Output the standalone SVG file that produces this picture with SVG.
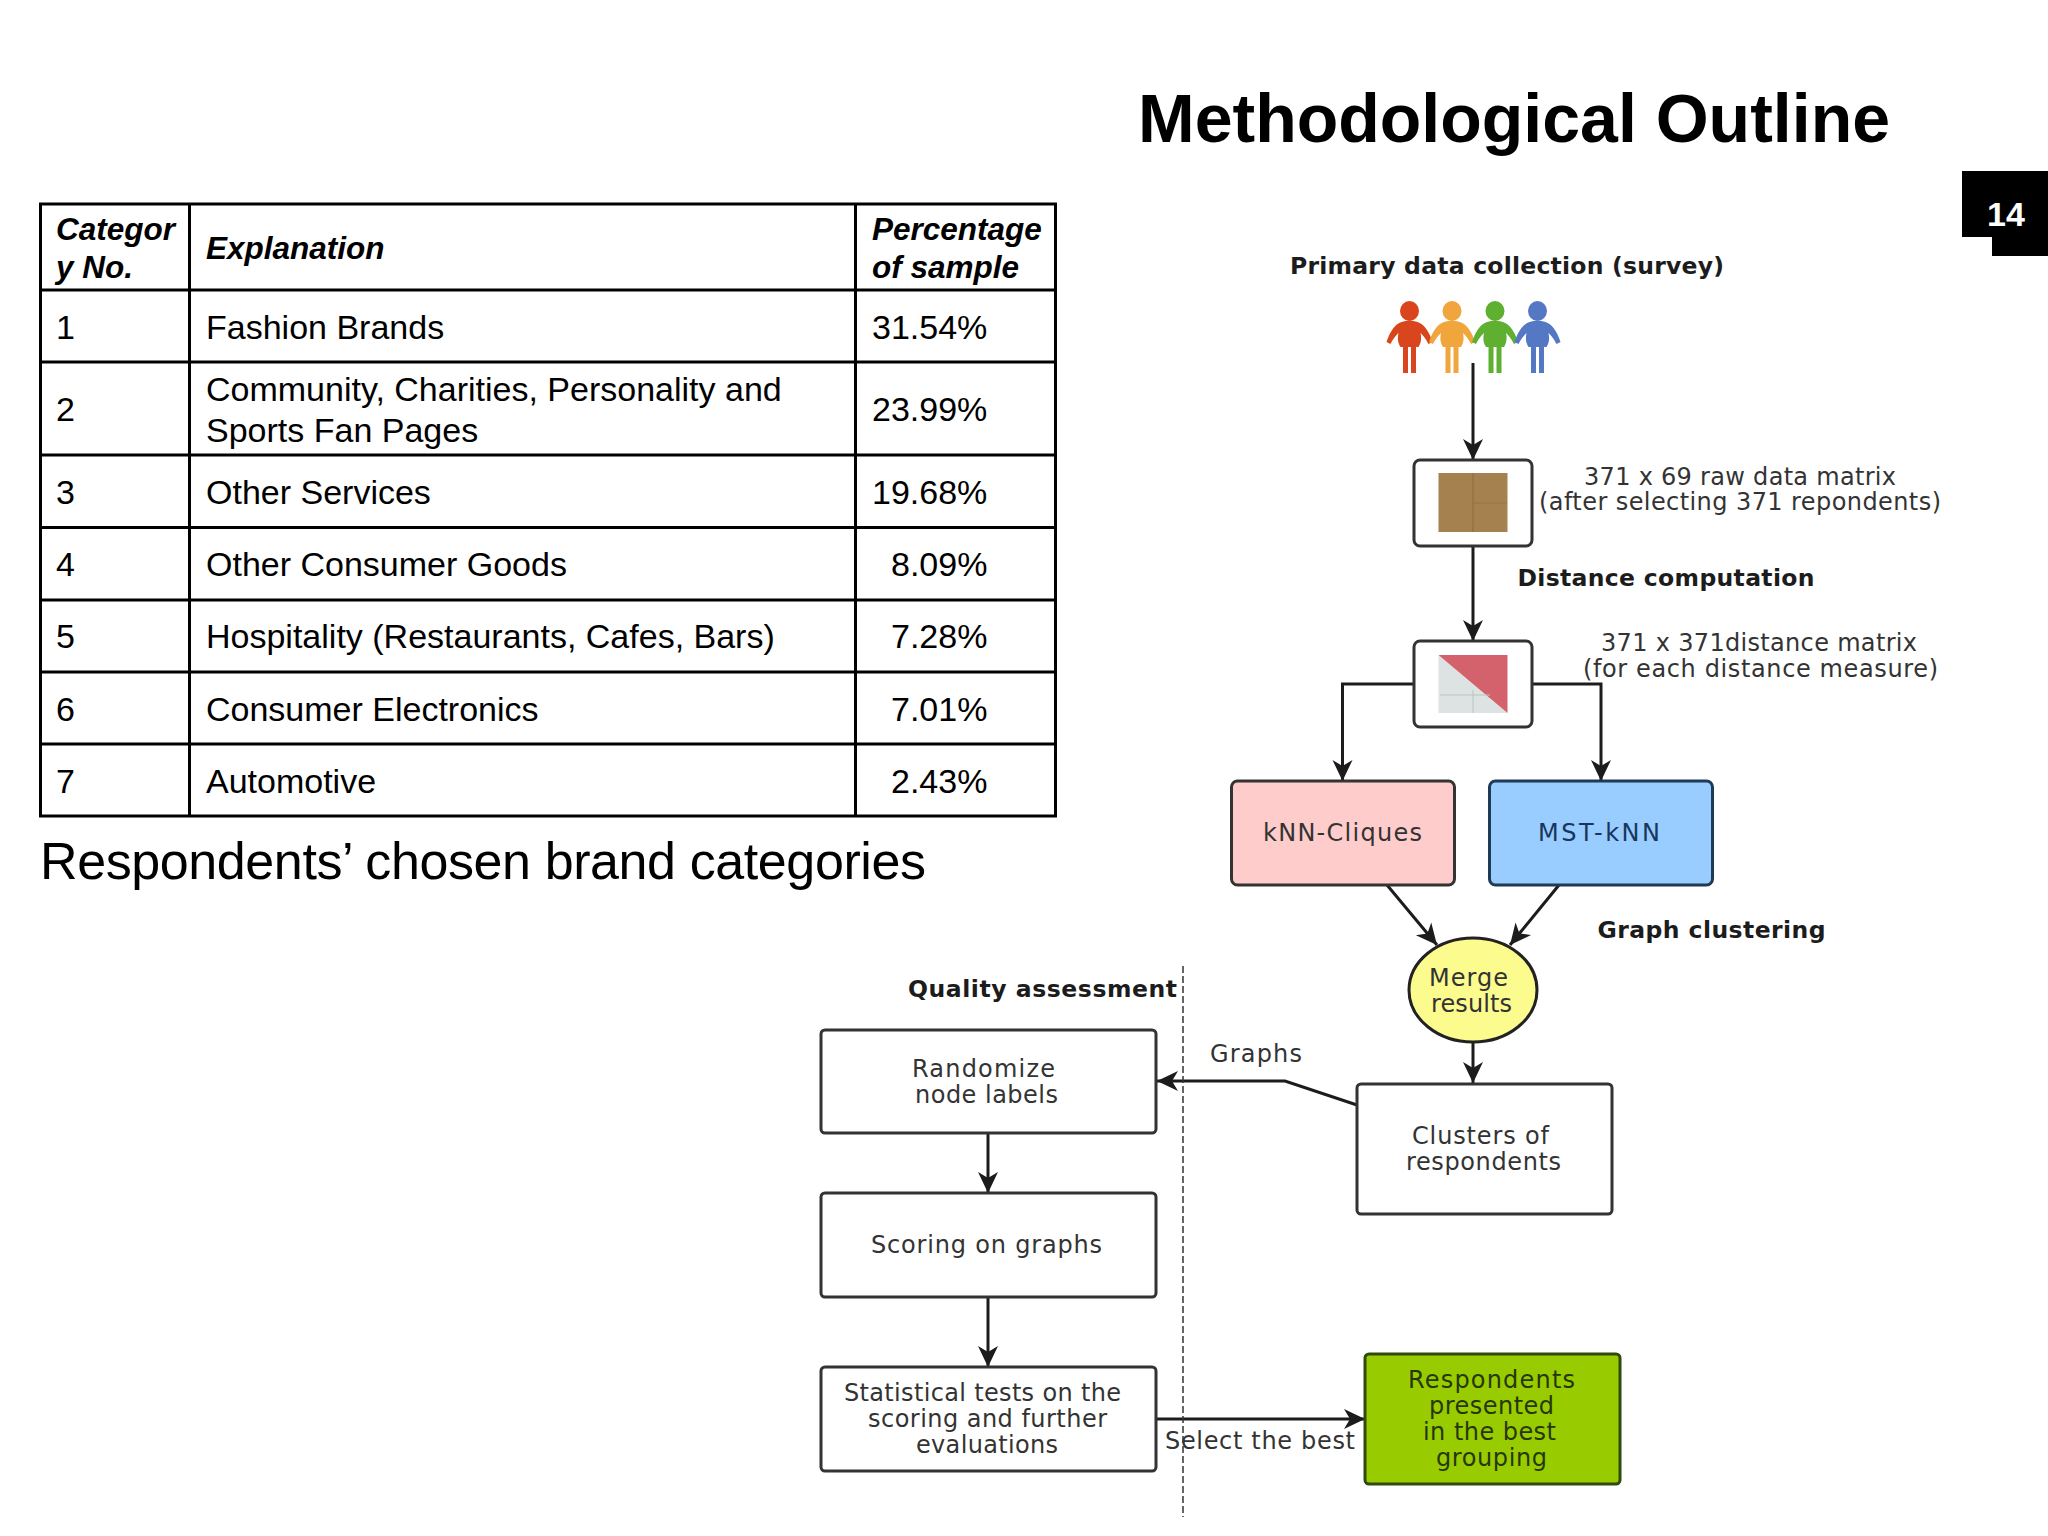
<svg xmlns="http://www.w3.org/2000/svg" width="2048" height="1536" viewBox="0 0 2048 1536">
<style>
text{font-family:"DejaVu Sans",sans-serif;fill:#333;font-size:24px}
.b{font-weight:700;fill:#1c1c1c;font-size:23.500px}
.a{font-family:"Liberation Sans",Arial,sans-serif;fill:#000}
.t{font-size:34px}
.h{font-size:31.500px;font-weight:700;font-style:italic}
.n{fill:#fff;stroke:#333;stroke-width:3}
.c{fill:none;stroke:#1c1c1c;stroke-width:3}
.g{fill:none;stroke:#000;stroke-width:3}
.d{fill:#26380a}
</style>
<defs>
<marker id="ah" markerUnits="userSpaceOnUse" markerWidth="28" markerHeight="28" viewBox="0 0 28 28" refX="25" refY="14" orient="auto">
<path d="M25,14 L4,4 L10,14 L4,24 Z" fill="#1c1c1c"/>
</marker>
<g id="person">
<ellipse cx="0" cy="-1" rx="9.500" ry="10"/>
<path d="M-8,10 Q0,7 8,10 C14,12 19,18 23,30 L19,32 C16,26 13,23 11,21 C12,26 12,30 9,35 L6.500,35 L6.500,61 L1.500,61 L1.500,35 L-1.500,35 L-1.500,61 L-6.500,61 L-6.500,35 L-9,35 C-12,30 -12,26 -11,21 C-13,23 -16,26 -19,32 L-23,30 C-19,18 -14,12 -8,10 Z"/>
</g>
</defs>
<rect width="2048" height="1536" fill="#fff"/>

<g id="title"><text class="a" x="1138" y="142" font-weight="700" style="font-size:68px" textLength="752">Methodological Outline</text></g>
<g id="page-number">
<path d="M1962,171 H2048 V256 H1992 V237 H1962 Z" fill="#000"/>
<text class="a" x="2006" y="226" text-anchor="middle" font-weight="700" style="font-size:34px;fill:#fff">14</text>
</g>

<g id="table">
<rect class="g" x="40.500" y="204" width="1015" height="612"/>
<path class="g" d="M189.500,204V816M855.500,204V816M40.500,290H1055.500M40.500,362H1055.500M40.500,455H1055.500M40.500,527.500H1055.500M40.500,600H1055.500M40.500,672H1055.500M40.500,744H1055.500"/>
<text class="a h" x="56" y="240">Categor</text>
<text class="a h" x="56" y="278">y No.</text>
<text class="a h" x="206" y="259">Explanation</text>
<text class="a h" x="872" y="240">Percentage</text>
<text class="a h" x="872" y="278">of sample</text>
<text class="a t" x="56" y="339">1</text><text class="a t" x="206" y="339">Fashion Brands</text><text class="a t" x="872" y="339">31.54%</text>
<text class="a t" x="56" y="421">2</text><text class="a t" x="206" y="401">Community, Charities, Personality and</text><text class="a t" x="206" y="442">Sports Fan Pages</text><text class="a t" x="872" y="421">23.99%</text>
<text class="a t" x="56" y="504">3</text><text class="a t" x="206" y="504">Other Services</text><text class="a t" x="872" y="504">19.68%</text>
<text class="a t" x="56" y="576">4</text><text class="a t" x="206" y="576">Other Consumer Goods</text><text class="a t" x="891" y="576">8.09%</text>
<text class="a t" x="56" y="648">5</text><text class="a t" x="206" y="648">Hospitality (Restaurants, Cafes, Bars)</text><text class="a t" x="891" y="648">7.28%</text>
<text class="a t" x="56" y="721">6</text><text class="a t" x="206" y="721">Consumer Electronics</text><text class="a t" x="891" y="721">7.01%</text>
<text class="a t" x="56" y="793">7</text><text class="a t" x="206" y="793">Automotive</text><text class="a t" x="891" y="793">2.43%</text>
</g>
<g id="caption"><text class="a" x="40" y="879" style="font-size:52px" textLength="886">Respondents’ chosen brand categories</text></g>

<g id="connectors">
<path class="c" marker-end="url(#ah)" d="M1473,363V460"/>
<path class="c" marker-end="url(#ah)" d="M1473,546V641"/>
<path class="c" marker-end="url(#ah)" d="M1414,684H1342.500V781"/>
<path class="c" marker-end="url(#ah)" d="M1532,684H1601V781"/>
<path class="c" marker-end="url(#ah)" d="M1387,885L1437,945"/>
<path class="c" marker-end="url(#ah)" d="M1559,885L1510,945"/>
<path class="c" marker-end="url(#ah)" d="M1473,1042V1083"/>
<path class="c" marker-end="url(#ah)" d="M1357,1105L1285,1081H1157"/>
<path class="c" marker-end="url(#ah)" d="M988,1133V1193"/>
<path class="c" marker-end="url(#ah)" d="M988,1297V1367"/>
<path class="c" marker-end="url(#ah)" d="M1156,1419H1365"/>
<path fill="none" stroke="#333" stroke-width="1.500" stroke-dasharray="7 3" d="M1183,966V1517"/>
</g>

<g id="label-primary"><text class="b" x="1290" y="274" textLength="434">Primary data collection (survey)</text></g>
<g id="people">
<use href="#person" x="1409.500" y="312" fill="#d9451c"/>
<use href="#person" x="1452" y="312" fill="#f0a63c"/>
<use href="#person" x="1495" y="312" fill="#5fb030"/>
<use href="#person" x="1537.500" y="312" fill="#5578c4"/>
</g>
<g id="raw-matrix">
<rect class="n" x="1414" y="460" width="118" height="86" rx="6"/>
<rect x="1438.500" y="473" width="69" height="59" fill="#a5814f"/>
<path d="M1473,473V532" stroke="#8a6a3e" stroke-width="1" fill="none"/>
<path d="M1473,503H1507" stroke="#977545" stroke-width="1" fill="none"/>
<text x="1584" y="485" textLength="312">371 x 69 raw data matrix</text>
<text x="1539" y="510" textLength="402">(after selecting 371 repondents)</text>
</g>
<g id="label-distance"><text class="b" x="1517.500" y="586" textLength="297">Distance computation</text></g>
<g id="distance-matrix">
<rect class="n" x="1414" y="641" width="118" height="86" rx="6"/>
<path d="M1438.500,655L1507.500,713H1438.500Z" fill="#dde3e3"/>
<path d="M1438.500,655H1507.500V713Z" fill="#d4626c"/>
<path d="M1473,690V713M1440,695H1490" stroke="#b9c4c4" stroke-width="1" fill="none"/>
<text x="1601" y="651" textLength="316">371 x 371distance matrix</text>
<text x="1583" y="677" textLength="355">(for each distance measure)</text>
</g>
<g id="knn-cliques">
<rect class="n" style="fill:#ffcccc" x="1231.500" y="781" width="223" height="104" rx="6"/>
<text x="1263" y="841" textLength="159">kNN-Cliques</text>
</g>
<g id="mst-knn">
<rect class="n" style="fill:#99ccff;stroke:#1f3a55" x="1489.500" y="781" width="223" height="104" rx="6"/>
<text x="1538" y="841" textLength="122" style="fill:#17375e">MST-kNN</text>
</g>
<g id="label-graph-clustering"><text class="b" x="1597.500" y="938" textLength="228">Graph clustering</text></g>
<g id="merge-results">
<ellipse cx="1473" cy="990" rx="64" ry="52" fill="#fbfb8e" stroke="#222" stroke-width="3"/>
<text x="1429" y="986" textLength="79">Merge</text>
<text x="1431" y="1012" textLength="81">results</text>
</g>
<g id="clusters">
<rect class="n" x="1357" y="1084" width="255" height="130" rx="4"/>
<text x="1412" y="1144" textLength="137">Clusters of</text>
<text x="1406" y="1170" textLength="155">respondents</text>
</g>
<g id="label-graphs"><text x="1210" y="1062" textLength="92">Graphs</text></g>
<g id="label-quality"><text class="b" x="908" y="997" textLength="269">Quality assessment</text></g>
<g id="randomize">
<rect class="n" x="821" y="1030" width="335" height="103" rx="4"/>
<text x="912" y="1077" textLength="143">Randomize</text>
<text x="915" y="1103" textLength="143">node labels</text>
</g>
<g id="scoring">
<rect class="n" x="821" y="1193" width="335" height="104" rx="4"/>
<text x="871" y="1253" textLength="231">Scoring on graphs</text>
</g>
<g id="statistical">
<rect class="n" x="821" y="1367" width="335" height="104" rx="4"/>
<text x="844" y="1401" textLength="277">Statistical tests on the</text>
<text x="868" y="1427" textLength="239">scoring and further</text>
<text x="916" y="1453" textLength="142">evaluations</text>
</g>
<g id="label-select"><text x="1165" y="1449" textLength="190">Select the best</text></g>
<g id="best-grouping">
<rect class="n" style="fill:#99cc00;stroke:#2f4a10" x="1365" y="1354" width="255" height="130" rx="4"/>
<text class="d" x="1408" y="1388" textLength="167" style="fill:#26380a">Respondents</text>
<text class="d" x="1429" y="1414" textLength="125" style="fill:#26380a">presented</text>
<text class="d" x="1423" y="1440" textLength="133" style="fill:#26380a">in the best</text>
<text class="d" x="1436" y="1466" textLength="111" style="fill:#26380a">grouping</text>
</g>
</svg>
